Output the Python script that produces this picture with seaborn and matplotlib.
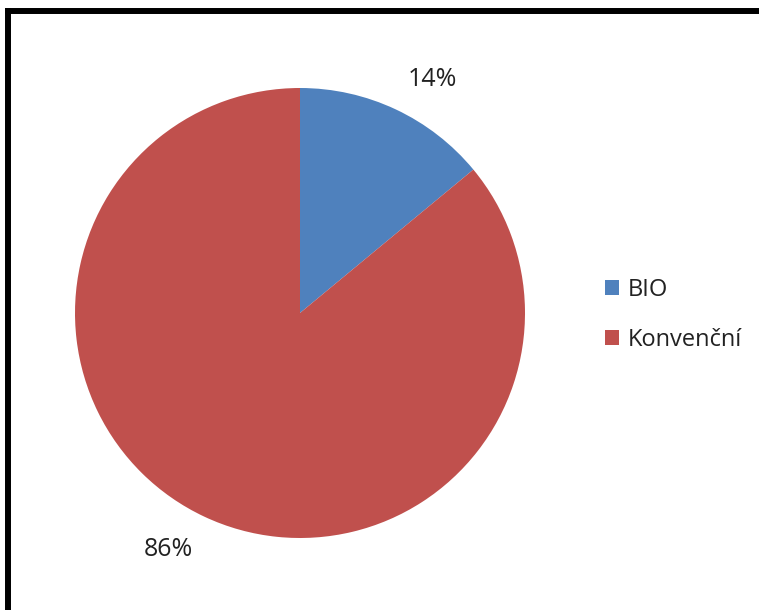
import matplotlib
matplotlib.use("Agg")
import matplotlib.pyplot as plt
from matplotlib.lines import Line2D
import seaborn as sns

categories = ["BIO", "Konvenční"]
values = [14, 86]
colors = ["#4F81BD", "#C0504D"]

sns.set_theme(style="white")
plt.rcParams["font.family"] = ["Open Sans", "DejaVu Sans"]

W, H = 759, 610
fig = plt.figure(figsize=(W / 100, H / 100), dpi=100)
fig.patch.set_facecolor("white")

cx, cy, r = 300, 313, 225
ax = fig.add_axes([(cx - r) / W, (H - cy - r) / H, 2 * r / W, 2 * r / H])
wedges, texts, autotexts = ax.pie(
    values, colors=colors, startangle=90, counterclock=False,
    autopct=lambda p: f"{p:.0f}%", pctdistance=1.2, radius=1,
    textprops=dict(fontsize=18, color="#222222"),
    wedgeprops=dict(linewidth=0),
)
# label placement (layout only) as in the reference
label_pos = [(0.587, 1.04), (-0.587, -1.05)]
for t, p in zip(autotexts, label_pos):
    t.set_position(p)
ax.set_xlim(-1, 1)
ax.set_ylim(-1, 1)
ax.set_aspect("auto")
ax.axis("off")

leg = fig.legend(
    wedges, categories, loc="center left",
    bbox_to_anchor=(605 / W, 1 - 315 / H), bbox_transform=fig.transFigure,
    frameon=False, fontsize=17, handlelength=0.6, handleheight=0.6,
    handletextpad=0.35, labelspacing=1.1, borderpad=0, borderaxespad=0,
)
for t in leg.get_texts():
    t.set_color("#222222")

# outer frame: thick black top and left lines
fig.add_artist(Line2D([5 / W, 1], [1 - 10.5 / H, 1 - 10.5 / H], color="black",
                      linewidth=4.3, transform=fig.transFigure, solid_capstyle="butt"))
fig.add_artist(Line2D([8 / W, 8 / W], [0, 1 - 8 / H], color="black",
                      linewidth=4.3, transform=fig.transFigure, solid_capstyle="butt"))

fig.savefig("out.png", dpi=100, facecolor="white")
